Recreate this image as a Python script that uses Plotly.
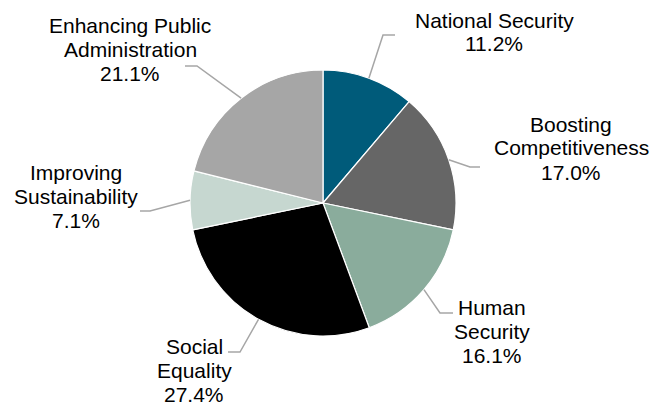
import math
import plotly.graph_objects as go

# ---- data ----
categories = ["National Security", "Boosting Competitiveness", "Human Security",
              "Social Equality", "Improving Sustainability", "Enhancing Public Administration"]
label_lines = [["National Security"], ["Boosting", "Competitiveness"], ["Human", "Security"],
               ["Social", "Equality"], ["Improving", "Sustainability"], ["Enhancing Public", "Administration"]]
values = [11.2, 17.0, 16.1, 27.4, 7.1, 21.1]

# ---- style ----
colors = ["#005b7a", "#666666", "#8aac9c", "#000000", "#c6d7d0", "#a6a6a6"]
W, H = 665, 405
CX, CY, R = 323, 203, 133  # pie centre and radius in px
FONT = 21
LINE_GAP = 24

# label placement (px): elbow point, line end, centre of first text line
elbows = [(383, 35), (470, 167), (440, 313), (240, 352), (150, 211), (197, 66)]
ends = [(395, 35), (480, 167), (453, 313), (228, 352), (140, 211), (185, 66)]
label_top = [(494, 20), (571, 124), (492, 307), (194, 346), (76, 172), (130, 25)]

def px(x, y):
    return x / W, 1 - y / H

fig = go.Figure(go.Pie(
    labels=categories, values=values, sort=False, direction="clockwise", rotation=0,
    marker=dict(colors=colors, line=dict(color="white", width=1.2)),
    textinfo="none", hoverinfo="label+percent", showlegend=False,
    domain=dict(x=[(CX - R) / W, (CX + R) / W], y=[1 - (CY + R) / H, 1 - (CY - R) / H]),
))

total = sum(values)
cum = 0
for i, v in enumerate(values):
    mid = (cum + v / 2) / total * 2 * math.pi
    cum += v
    ex, ey = CX + R * math.sin(mid), CY - R * math.cos(mid)
    x0, y0 = px(ex, ey)
    x1, y1 = px(*elbows[i])
    x2, y2 = px(*ends[i])
    fig.add_shape(type="path", xref="paper", yref="paper",
                  path=f"M {x0} {y0} L {x1} {y1} L {x2} {y2}",
                  line=dict(color="#a6a6a6", width=1.5))
    lines = label_lines[i] + [f"{v:.1f}%"]
    tx, ty = label_top[i]
    for k, line in enumerate(lines):
        lx, ly = px(tx, ty + k * LINE_GAP)
        fig.add_annotation(x=lx, y=ly, xref="paper", yref="paper", showarrow=False,
                           text=line, xanchor="center", yanchor="middle", align="center",
                           font=dict(family="Liberation Sans, Arial", size=FONT, color="#000000"))

fig.update_layout(width=W, height=H, margin=dict(l=0, r=0, t=0, b=0),
                  paper_bgcolor="white", plot_bgcolor="white")
fig.write_html("out.html", config={"displayModeBar": False},
               post_script="document.body.style.margin='0';document.body.style.overflow='hidden';")
